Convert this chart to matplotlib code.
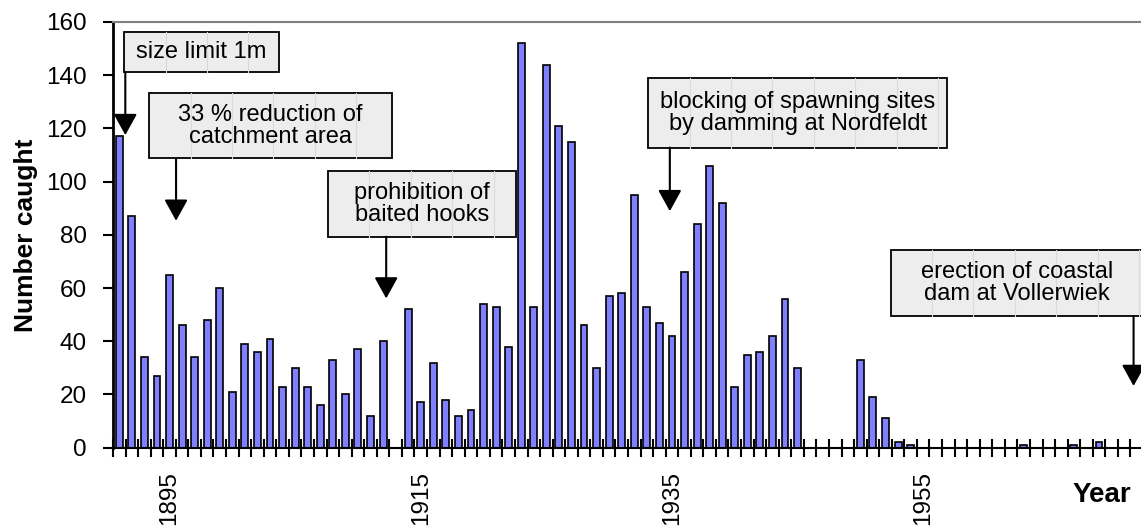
import matplotlib
matplotlib.use("Agg")
import matplotlib.pyplot as plt
from matplotlib.patches import Rectangle
from matplotlib.ticker import FixedLocator, MultipleLocator
import numpy as np

plt.rcParams["font.family"] = ["Liberation Sans", "DejaVu Sans"]

# catch per year, 1891-1972 (zero = no catch recorded)
years = list(range(1891, 1973))
catch = [
    117, 87, 34, 27, 65, 46, 34, 48, 60, 21,   # 1891-1900
    39, 36, 41, 23, 30, 23, 16, 33, 20, 37,    # 1901-1910
    12, 40, 0, 52, 17, 32, 18, 12, 14, 54,     # 1911-1920
    53, 38, 152, 53, 144, 121, 115, 46, 30, 57,  # 1921-1930
    58, 95, 53, 47, 42, 66, 84, 106, 92, 23,   # 1931-1940
    35, 36, 42, 56, 30, 0, 0, 0, 0, 33,        # 1941-1950
    19, 11, 2, 1, 0, 0, 0, 0, 0, 0,            # 1951-1960
    0, 0, 1, 0, 0, 0, 1, 0, 2, 0,              # 1961-1970
    0, 0,                                      # 1971-1972
]
label_years = [1895, 1915, 1935, 1955]
y_ticks = [0, 20, 40, 60, 80, 100, 120, 140, 160]

# annotation texts, arrow x (year), arrow tip value
notes = [
    "size limit 1m",
    "33 % reduction of\ncatchment area",
    "prohibition of\nbaited hooks",
    "blocking of spawning sites\nby damming at Nordfeldt",
    "erection of coastal\ndam at Vollerwiek",
]
arrow_x = [1891.48, 1895.52, 1912.25, 1934.83, 1971.75]
arrow_tip = [117.5, 85.3, 56.1, 88.9, 23.2]
# box extents: (x0, x1, y0, y1) in data units
boxes = [
    (1891.38, 1903.73, 141.2, 156.2),
    (1893.37, 1912.70, 108.7, 133.4),
    (1907.60, 1922.60, 79.3, 103.9),
    (1933.10, 1956.90, 112.8, 139.0),
    (1952.40, 1972.50, 49.5, 74.3),
]

BAR = "#8080FF"

fig = plt.figure(figsize=(11.41, 5.28), dpi=100)
ax = fig.add_axes([113 / 1141, 1 - 447.7 / 528, 1030 / 1141, 425.7 / 528])

ax.bar(years, catch, width=0.55, color=BAR, edgecolor="black", linewidth=1.2, zorder=2)

ax.set_xlim(1890.5, 1972.5)
ax.set_ylim(0, 160)

ax.xaxis.set_major_locator(FixedLocator(label_years))
ax.xaxis.set_minor_locator(MultipleLocator(1, offset=0.5))
ax.set_xticklabels([str(y) for y in label_years], rotation=90, fontsize=17.5)
ax.tick_params(axis="x", which="major", length=0, pad=17)
ax.tick_params(axis="x", which="minor", direction="inout", length=13, width=1.5)

ax.set_yticks(y_ticks)
ax.tick_params(axis="y", direction="out", length=7, width=1.5, labelsize=17.5, pad=12)

ax.spines["right"].set_visible(False)
ax.spines["top"].set_color("#808080")
ax.spines["top"].set_linewidth(1.5)
ax.spines["left"].set_linewidth(2)
ax.spines["bottom"].set_linewidth(1.5)

ax.set_ylabel("Number caught", fontsize=19, fontweight="bold", labelpad=6)
ax.text(0.96, -0.08, "Year", transform=ax.transAxes, ha="center", va="top",
        fontsize=20, fontweight="bold")

for text, ax_x, tip, (x0, x1, y0, y1) in zip(notes, arrow_x, arrow_tip, boxes):
    ax.add_patch(Rectangle((x0, y0), x1 - x0, y1 - y0, facecolor="#EDEDED",
                           edgecolor="black", linewidth=1.3, zorder=4, clip_on=False))
    # faint vertical texture lines like the original fill
    for lx in np.arange(x0 + 3.3, x1, 3.3):
        ax.plot([lx, lx], [y0, y1], color="#DADADA", linewidth=0.8, zorder=4.5, clip_on=False)
    ax.text((x0 + x1) / 2, (y0 + y1) / 2, text, ha="center", va="center",
            fontsize=17, linespacing=1.0, zorder=5)
    ax.annotate("", xy=(ax_x, tip), xytext=(ax_x, y0),
                arrowprops=dict(arrowstyle="-|>,head_length=0.65,head_width=0.36",
                                color="black", lw=1.5, mutation_scale=20,
                                shrinkA=0, shrinkB=0),
                zorder=5, annotation_clip=False)

fig.savefig("out.png", dpi=100)
